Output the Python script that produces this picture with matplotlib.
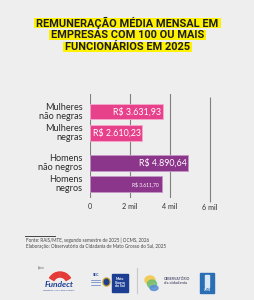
import matplotlib.pyplot as plt
from matplotlib.patches import Rectangle, Ellipse, Wedge

# ── Data ─────────────────────────────────────────────────────
categories = ["Mulheres\nnão negras", "Mulheres\nnegras",
              "Homens\nnão negros", "Homens\nnegros"]
salaries = [3631.93, 2610.23, 4890.64, 3611.70]
value_labels = ["R$ 3.631,93", "R$ 2.610,23", "R$ 4.890,64", "R$ 3.611,70"]
tick_values = [0, 2000, 4000, 6000]
tick_labels = ["0", "2 mil", "4 mil", "6 mil"]

title_lines = ["REMUNERAÇÃO MÉDIA MENSAL EM",
               "EMPRESAS COM 100 OU MAIS",
               "FUNCIONÁRIOS EM 2025"]
source_lines = ["Fonte: RAIS/MTE, segundo semestre de 2025 | OCMS, 2026",
                "Elaboração: Observatório da Cidadania de Mato Grosso do Sul, 2025"]

PINK = "#e8418c"
PURPLE = "#8b358b"
BG = "#eeeeee"
W, H = 255, 300

plt.rcParams['font.family'] = ['Lato', 'DejaVu Sans']

fig = plt.figure(figsize=(W / 100, H / 100), dpi=100, facecolor=BG)


def px_axes(x0, y0, x1, y1):
    # axes given in pixel coords, y from the top
    return fig.add_axes([x0 / W, 1 - y1 / H, (x1 - x0) / W, (y1 - y0) / H])


# ── Bar chart ────────────────────────────────────────────────
ax = px_axes(90, 94, 220, 198)
ax.set_facecolor("none")
ypos = [0, 1, 2.4, 3.4]
colors = [PINK, PINK, PURPLE, PURPLE]
edge = ["#f5a9cb", "#f5a9cb", "#c596c5", "#c596c5"]
ax.barh(ypos, salaries, height=0.72, color=colors, edgecolor=edge,
        linewidth=0.6, zorder=2)
ax.set_xlim(0, 6500)
ax.set_ylim(4.05, -0.83)
ax.axis("off")

# gridlines sit behind the bars
for t in tick_values[:3]:
    ax.axvline(t, color="#808080", lw=0.8, zorder=1)
ax.vlines(tick_values[3], -0.69, 4.24, color="#808080", lw=0.8,
          clip_on=False, zorder=1)

for t, lab in zip(tick_values, tick_labels):
    off = 0.45 if t == 6000 else 0.38
    ax.text(t, 4.05 + off, lab, ha="center", va="center", fontsize=5.2,
            color="#333333", clip_on=False)

for y, cat in zip(ypos, categories):
    ax.text(-380, y, cat, ha="right", va="center", fontsize=6.6,
            color="#2b2b2b", linespacing=0.95, clip_on=False)

for i, (y, v, lab) in enumerate(zip(ypos, salaries, value_labels)):
    small = i == 3
    ax.text(v - (190 if small else 60), y, lab, ha="right", va="center",
            fontsize=3.6 if small else 6.4, color="white", zorder=4)

# ── Overlay for title, footer and logos ──────────────────────
ov = fig.add_axes([0, 0, 1, 1])
ov.set_xlim(0, W)
ov.set_ylim(H, 0)
ov.axis("off")
ov.set_zorder(-1)

# title: yellow highlight per line, sized from the rendered text width
title_texts = []
for yc, line in zip([23.0, 35.0, 47.0], title_lines):
    t = ov.text(127.5, yc + 0.3, line, ha="center", va="center",
                fontsize=7.9, fontweight="bold",
                family=["Roboto", "DejaVu Sans"], color="#1e1e1e", zorder=3)
    title_texts.append((yc, t))
fig.canvas.draw()
inv = ov.transData.inverted()
for yc, t in title_texts:
    bb = t.get_window_extent()
    x0 = inv.transform((bb.x0, 0))[0]
    x1 = inv.transform((bb.x1, 0))[0]
    ov.add_patch(Rectangle((x0 - 2.2, yc - 4.9), x1 - x0 + 4.4, 9.8,
                           color="#fff200", zorder=2, lw=0))

ov.plot([25.5, 55], [235.5, 235.5], color="#444444", lw=0.7)
for yc, line in zip([240.5, 246.5], source_lines):
    ov.text(26, yc, line, ha="left", va="center", fontsize=3.3,
            color="#444444")

# logos (simplified)
ov.text(38, 268.5, "Apoio:", fontsize=1.8, color="#555555", va="center")
for k in range(3):
    ov.add_patch(Wedge((60, 284), 12 - k * 2.0, -150, -30, width=1.0,
                       color="#e53935"))
ov.text(59, 284.5, "Fundect", ha="center", va="center", fontsize=6,
        fontweight="bold", style="italic", color="#1c3f94")
ov.text(59, 290.5, "Fundação de Apoio ao Desenvolvimento", ha="center",
        va="center", fontsize=1.3, color="#1c3f94")
ov.text(96, 275.5, "SEC", ha="center", fontsize=2.6, fontweight="bold",
        color="#1c3f94", va="center")
for yy in [279.5, 282, 284.5]:
    ov.plot([91.5, 100.5], [yy, yy], color="#5a7bc0", lw=0.5)
ov.add_patch(Ellipse((106.5, 282), 7, 8, color="#c9a227"))
ov.add_patch(Ellipse((106.5, 282), 4.5, 5.5, color="#1c3f94"))
ov.add_patch(Rectangle((112, 274), 16.5, 17.5, color="#1c3f94"))
ov.text(120, 282.5, "Mato\nGrosso\ndo Sul", ha="center", va="center",
        fontsize=2.5, color="white", fontweight="bold", linespacing=0.9)
ov.plot([137, 137], [268, 293], color="#c8c8c8", lw=0.8)
ov.add_patch(Ellipse((150, 280), 10, 8, color="#f2c94c", alpha=0.9))
ov.add_patch(Ellipse((152, 284), 9, 8, color="#6fbf73", alpha=0.85))
ov.add_patch(Ellipse((154, 288), 8, 5, color="#5b8fd6", alpha=0.85))
ov.text(164, 279.5, "OBSERVATÓRIO", fontsize=2.4, fontweight="bold",
        color="#555577", va="center")
ov.text(164, 283.5, "da cidadania", fontsize=3.0, fontweight="bold",
        color="#555577", va="center")
ov.add_patch(Rectangle((200.5, 272.5), 14, 20, color="#2a6fb5"))
ov.add_patch(Rectangle((205.5, 275), 4, 12, color="#dbe9f6"))
ov.text(207.5, 290, "UFMS", ha="center", va="center", fontsize=1.8,
        color="white", fontweight="bold")

fig.savefig("out.png", dpi=100, facecolor=BG)
